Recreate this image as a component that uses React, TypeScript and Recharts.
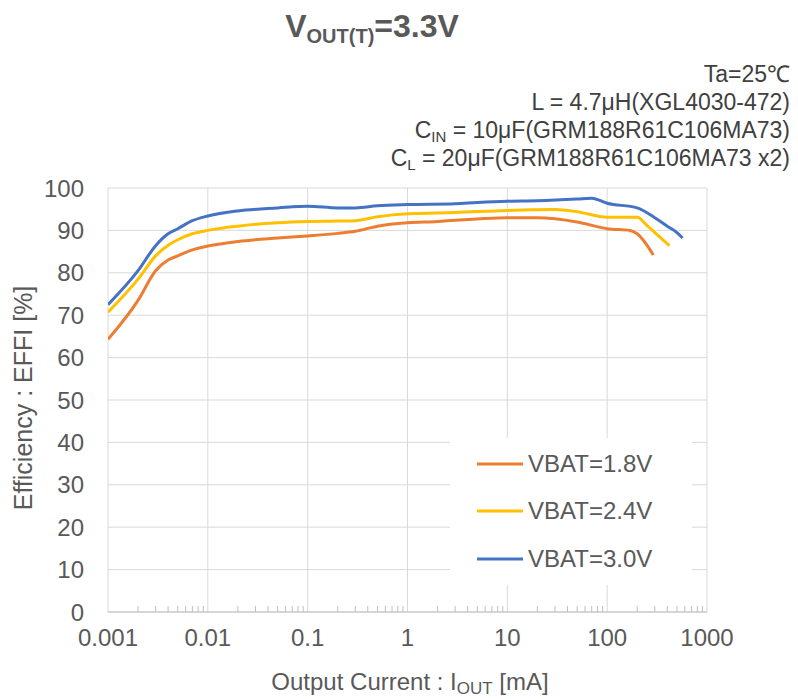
import React from "react";
import { LineChart, Line, XAxis, YAxis, CartesianGrid, ReferenceLine, Legend } from "recharts";

// efficiency [%] vs output current [mA]
const vbat18 = [
  { x: 0.001, y: 64.3 }, { x: 0.002, y: 73.5 }, { x: 0.003, y: 80.5 }, { x: 0.004, y: 83 },
  { x: 0.005, y: 84 }, { x: 0.007, y: 85.4 }, { x: 0.01, y: 86.3 }, { x: 0.02, y: 87.4 },
  { x: 0.05, y: 88.2 }, { x: 0.1, y: 88.7 }, { x: 0.2, y: 89.3 }, { x: 0.3, y: 89.8 },
  { x: 0.5, y: 91 }, { x: 1, y: 91.8 }, { x: 2, y: 92.1 }, { x: 3, y: 92.4 },
  { x: 5, y: 92.7 }, { x: 10, y: 93 }, { x: 20, y: 93 }, { x: 50, y: 92 },
  { x: 100, y: 90.4 }, { x: 170, y: 90 }, { x: 200, y: 89.2 }, { x: 290, y: 84.2 },
];
const vbat24 = [
  { x: 0.001, y: 70.7 }, { x: 0.002, y: 78.5 }, { x: 0.003, y: 84 }, { x: 0.004, y: 86.5 },
  { x: 0.005, y: 87.8 }, { x: 0.007, y: 89.2 }, { x: 0.01, y: 90 }, { x: 0.02, y: 91 },
  { x: 0.05, y: 91.8 }, { x: 0.1, y: 92.1 }, { x: 0.2, y: 92.2 }, { x: 0.3, y: 92.3 },
  { x: 0.5, y: 93.2 }, { x: 1, y: 93.9 }, { x: 3, y: 94.2 }, { x: 10, y: 94.7 },
  { x: 30, y: 94.9 }, { x: 50, y: 94.4 }, { x: 100, y: 93.1 }, { x: 200, y: 93.1 },
  { x: 250, y: 91.2 }, { x: 300, y: 89.5 }, { x: 420, y: 86.4 },
];
const vbat30 = [
  { x: 0.001, y: 72.5 }, { x: 0.002, y: 80.5 }, { x: 0.003, y: 86.4 }, { x: 0.004, y: 89.2 },
  { x: 0.005, y: 90.4 }, { x: 0.007, y: 92.3 }, { x: 0.01, y: 93.4 }, { x: 0.02, y: 94.6 },
  { x: 0.05, y: 95.3 }, { x: 0.1, y: 95.7 }, { x: 0.2, y: 95.3 }, { x: 0.3, y: 95.3 },
  { x: 0.5, y: 95.8 }, { x: 1, y: 96.1 }, { x: 3, y: 96.3 }, { x: 5, y: 96.6 },
  { x: 10, y: 96.9 }, { x: 20, y: 97 }, { x: 50, y: 97.4 }, { x: 70, y: 97.6 },
  { x: 100, y: 96.4 }, { x: 200, y: 95.3 }, { x: 300, y: 93 }, { x: 400, y: 91 },
  { x: 500, y: 89.5 }, { x: 570, y: 88.2 },
];

const decadeTicks = [0.001, 0.01, 0.1, 1, 10, 100, 1000];
const minorSteps = [2, 3, 4, 5, 6, 7, 8, 9];
const minorTicks = decadeTicks.slice(0, -1).flatMap((d) => minorSteps.map((m) => d * m));
const effTicks = [0, 10, 20, 30, 40, 50, 60, 70, 80, 90, 100];

const FONT = "'Liberation Sans', Arial, sans-serif";
const GRAY = "#595959";

const XTick = (props: any) => {
  const { x, y, payload } = props;
  const major = decadeTicks.some((d) => Math.abs(d - payload.value) / d < 1e-6);
  if (!major) {
    return <line x1={x} x2={x} y1={y} y2={y - 6} stroke="#bfbfbf" strokeWidth={1} />;
  }
  return (
    <text x={x} y={y + 34} textAnchor="middle" fontSize={24} fill={GRAY} fontFamily={FONT}>
      {String(payload.value)}
    </text>
  );
};

const LegendBox = ({ payload }: any) => (
  <div style={{ background: "#fff", width: 242, height: 147, boxSizing: "border-box", paddingTop: 2 }}>
    {(payload || []).map((p: any) => (
      <div key={p.value} style={{ display: "flex", alignItems: "center", height: 47.5, paddingLeft: 27 }}>
        <svg width={46} height={6}>
          <line x1={0} x2={46} y1={3} y2={3} stroke={p.color} strokeWidth={3} />
        </svg>
        <span style={{ marginLeft: 5, fontSize: 24, color: GRAY, fontFamily: FONT, lineHeight: "24px" }}>
          {p.value}
        </span>
      </div>
    ))}
  </div>
);

export default function App() {
  return (
    <div style={{ position: "absolute", left: 0, top: 0, width: 798, height: 699, background: "#fff", fontFamily: FONT }}>
      <LineChart width={798} height={699} margin={{ top: 188, right: 91, bottom: 0, left: 0 }}>
        <CartesianGrid vertical={false} stroke="#d9d9d9" />
        {decadeTicks.map((d) => (
          <ReferenceLine key={d} x={d} stroke="#d9d9d9" strokeWidth={1} />
        ))}
        <XAxis
          dataKey="x"
          type="number"
          scale="log"
          domain={[0.001, 1000]}
          allowDataOverflow
          ticks={[...decadeTicks, ...minorTicks]}
          interval={0}
          tick={<XTick />}
          tickLine={false}
          tickSize={0}
          tickMargin={0}
          axisLine={{ stroke: "#bfbfbf" }}
          height={87}
        />
        <YAxis
          type="number"
          domain={[0, 100]}
          ticks={effTicks}
          interval={0}
          axisLine={false}
          tickLine={false}
          tickSize={0}
          tickMargin={24}
          width={108}
          tick={{ fontSize: 24, fill: GRAY, fontFamily: FONT }}
        />
        <Line data={vbat18} dataKey="y" name="VBAT=1.8V" type="monotone" stroke="#ED7D31" strokeWidth={3} dot={false} isAnimationActive={false} />
        <Line data={vbat24} dataKey="y" name="VBAT=2.4V" type="monotone" stroke="#FFC000" strokeWidth={3} dot={false} isAnimationActive={false} />
        <Line data={vbat30} dataKey="y" name="VBAT=3.0V" type="monotone" stroke="#4472C4" strokeWidth={3} dot={false} isAnimationActive={false} />
        <Legend
          layout="vertical"
          verticalAlign="middle"
          align="center"
          content={<LegendBox />}
          wrapperStyle={{ left: 450, top: 438, width: 242, height: 147 }}
        />
      </LineChart>
      <svg width={798} height={699} style={{ position: "absolute", left: 0, top: 0, pointerEvents: "none" }} fontFamily={FONT}>
        <text x={372} y={37} textAnchor="middle" fill={GRAY} fontSize={32} fontWeight="bold">
          V<tspan fontSize={20} dy={6}>OUT(T)</tspan>
          <tspan dy={-6}>=3.3V</tspan>
        </text>
        <g fill="#404040" fontSize={23} textAnchor="end">
          <text x={790} y={82}>Ta=25℃</text>
          <text x={790} y={110}>L = 4.7μH(XGL4030-472)</text>
          <text x={790} y={138}>
            C<tspan fontSize={15} dy={4}>IN</tspan>
            <tspan dy={-4}> = 10μF(GRM188R61C106MA73)</tspan>
          </text>
          <text x={790} y={166}>
            C<tspan fontSize={15} dy={4}>L</tspan>
            <tspan dy={-4}> = 20μF(GRM188R61C106MA73 x2)</tspan>
          </text>
        </g>
        <text x={410} y={690} textAnchor="middle" fill={GRAY} fontSize={24}>
          Output Current : I<tspan fontSize={17} dy={4}>OUT</tspan>
          <tspan dy={-4}> [mA]</tspan>
        </text>
        <text
          x={23}
          y={398}
          transform="rotate(-90 23 398)"
          textAnchor="middle"
          dominantBaseline="central"
          fill={GRAY}
          fontSize={25}
        >
          Efficiency : EFFI [%]
        </text>
      </svg>
    </div>
  );
}
